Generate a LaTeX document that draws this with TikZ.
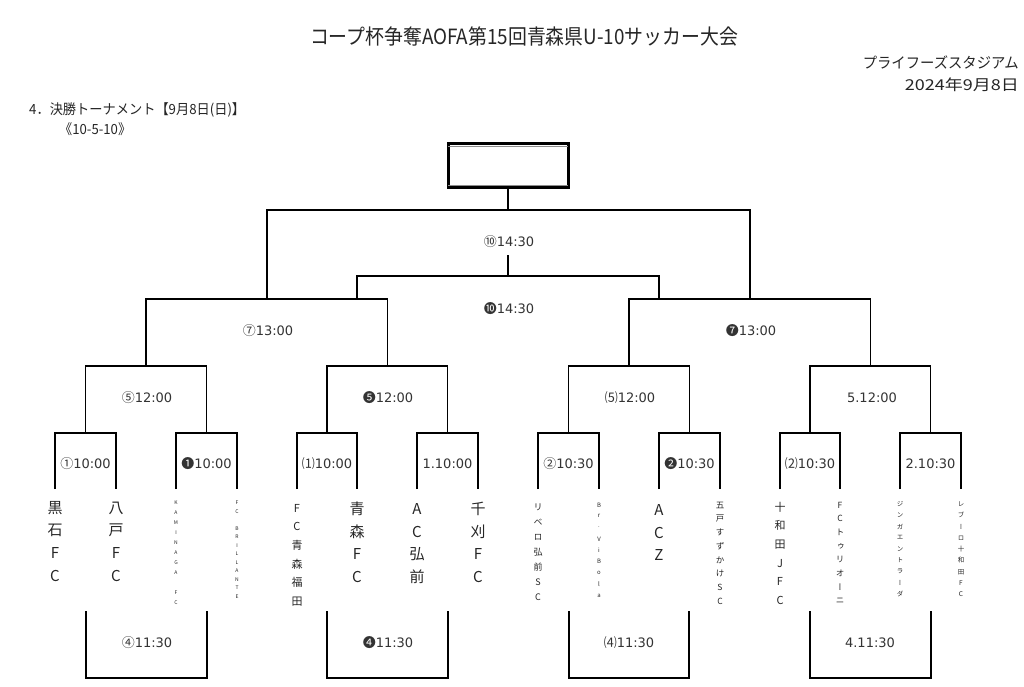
\documentclass[tikz,border=0pt]{standalone}
\usepackage{fontspec}
\usetikzlibrary{calc}
\setmainfont{DejaVu Sans}
\newfontfamily\cjk{Noto Sans CJK JP}
\newfontfamily\cjkv[RawFeature=+vert]{Noto Sans CJK JP}
\tikzset{
  br/.style={line width=1.8pt, line join=miter},
  brb/.style={line width=2.6pt},
  tm/.style={font=\fontsize{13}{15}\selectfont, text=black!80, inner sep=0pt},
  hd/.style={font=\cjk, inner sep=0pt, text=black!85},
  ch/.style={inner sep=0pt, text=black!85},
}
\newcommand\tmlab[4]{\node[tm] (#1) at (#2) {{\cjk #3}#4};}
\newcommand\vname[6]{%
  \foreach \c [count=\i from 0] in {#6} {%
    \node[ch, font=\cjkv\fontsize{#5}{#5}\selectfont, name=#1-\i] at (#2, {#3+\i*#4}) {\c};}}
\begin{document}
\begin{tikzpicture}[x=1pt,y=-1pt]
\useasboundingbox[fill=white] (0,0) rectangle (1024,687);

% headings
\node[hd] (title) at (524,37) {\resizebox{428pt}{\height}{\fontsize{21}{21}\selectfont コープ杯争奪AOFA第15回青森県U-10サッカー大会}};
\node[hd, anchor=east] (venue) at (1019,62) {\resizebox{156pt}{\height}{\fontsize{15}{15}\selectfont プライフーズスタジアム}};
\node[hd, anchor=east] (date) at (1019,85) {\resizebox{114pt}{\height}{\fontsize{15}{15}\selectfont 2024年9月8日}};
\node[hd, anchor=west] (sec) at (29,110) {\resizebox{216pt}{\height}{\fontsize{14}{14}\selectfont 4．決勝トーナメント【9月8日(日)】}};
\node[hd, anchor=west] (fmt) at (59,129) {\resizebox{72pt}{\height}{\fontsize{14}{14}\selectfont 《10-5-10》}};

% top box
\node[draw, line width=3pt, minimum width=120pt, minimum height=44pt, inner sep=0pt] (box) at (508.3,165.5) {};
\draw[black!45, line width=0.9pt] ($(box.north west)+(1.5,4)$) -- ($(box.north east)+(-1.5,4)$);
\draw[black!45, line width=0.9pt] ($(box.south west)+(1.5,-4)$) -- ($(box.south east)+(-1.5,-4)$);

% leaves
\foreach \n/\x in {1/55,2/116,3/176,4/237,5/297,6/357,7/417,8/478,9/538,10/599,11/659,12/720,13/780,14/840,15/900,16/961}
  {\coordinate (L\n) at (\x,489);}
% round 1 junctions
\foreach \n/\x in {1/85.5,2/206.5,3/327,4/447.5,5/568.5,6/689.5,7/810,8/930.5}
  {\coordinate (m\n) at (\x,433);}
\foreach \n/\x in {1/146,2/387.5,3/629,4/870.5}
  {\coordinate (q\n) at (\x,366);}
\coordinate (s1) at (266.75,299);
\coordinate (s2) at (749.75,299);
\coordinate (f) at (508.3,210);
\coordinate (a1) at (357,299);
\coordinate (a2) at (659,299);
\coordinate (t) at (508.3,276);
\coordinate (t2) at (508.3,255);

\draw[br] (L1) |- (m1) -| (L2);
\draw[br] (L3) |- (m2) -| (L4);
\draw[br] (L5) |- (m3) -| (L6);
\draw[br] (L7) |- (m4) -| (L8);
\draw[br] (L9) |- (m5) -| (L10);
\draw[br] (L11) |- (m6) -| (L12);
\draw[br] (L13) |- (m7) -| (L14);
\draw[br] (L15) |- (m8) -| (L16);
\draw[br] (m1) |- (q1) -| (m2);
\draw[br] (m3) |- (q2) -| (m4);
\draw[br] (m5) |- (q3) -| (m6);
\draw[br] (m7) |- (q4) -| (m8);
\draw[br] (q1) |- (s1) -| (q2);
\draw[br] (q3) |- (s2) -| (q4);
\draw[br] (s1) |- (f) -| (s2);
\draw[br] (f) -- (box.south);
\draw[br] (a1) |- (t) -| (a2);
\draw[br] (t) -- (t2);

% bottom brackets
\foreach \n/\xa/\xb in {1/86/207,2/327/448,3/569/689,4/810/931}{
  \coordinate (bl\n) at (\xa,611);
  \coordinate (br\n) at (\xb,611);
  \coordinate (bbl\n) at (\xa,678);
  \coordinate (bbr\n) at (\xb,678);
  \draw[br] (bl\n) -- (bbl\n);
  \draw[br] (br\n) -- (bbr\n);
  \draw[brb] ([xshift=-0.9pt]bbl\n) -- ([xshift=0.9pt]bbr\n);
}

% time labels
\tmlab{r1}{85.5,464}{①}{10:00}
\tmlab{r2}{206.5,464}{❶}{10:00}
\tmlab{r3}{327,464}{⑴}{10:00}
\tmlab{r4}{447.5,464}{}{1.10:00}
\tmlab{r5}{568.5,464}{②}{10:30}
\tmlab{r6}{689.5,464}{❷}{10:30}
\tmlab{r7}{810,464}{⑵}{10:30}
\tmlab{r8}{930.5,464}{}{2.10:30}
\tmlab{qa}{147,398}{⑤}{12:00}
\tmlab{qb}{388,398}{❺}{12:00}
\tmlab{qc}{630,398}{⑸}{12:00}
\tmlab{qd}{872,398}{}{5.12:00}
\tmlab{sa}{268,331}{⑦}{13:00}
\tmlab{sb}{751,331}{❼}{13:00}
\tmlab{fa}{509,242}{⑩}{14:30}
\tmlab{fb}{509,309}{❿}{14:30}
\tmlab{ba}{147,643}{④}{11:30}
\tmlab{bb}{388,643}{❹}{11:30}
\tmlab{bc}{629,643}{⑷}{11:30}
\tmlab{bd}{870,643}{}{4.11:30}

% team names
\vname{n1}{55}{508}{22.7}{15}{黒,石,F,C}
\vname{n2}{116}{508}{22.7}{15}{八,戸,F,C}
\vname{n3}{176}{503}{10}{5}{K,A,M,I,N,A,G,A,{},F,C}
\vname{n4}{237}{503}{8.5}{5}{F,C,{},B,R,I,L,L,A,N,T,E}
\vname{n5}{297}{508}{18.7}{11}{F,C,青,森,福,田}
\vname{n6}{357}{509}{22.7}{15}{青,森,F,C}
\vname{n7}{417}{509}{22.7}{15}{A,C,弘,前}
\vname{n8}{478}{509}{22.7}{15}{千,刈,F,C}
\vname{n9}{538}{507}{15}{9}{リ,ベ,ロ,弘,前,S,C}
\vname{n10}{599}{505}{11.3}{6}{B,r,.,V,i,B,o,l,a}
\vname{n11}{659}{510}{22.7}{15}{A,C,Z}
\vname{n12}{720}{505}{13.7}{8.5}{五,戸,す,ず,か,け,S,C}
\vname{n13}{780}{507}{18.7}{11}{十,和,田,J,F,C}
\vname{n14}{840}{505}{13.7}{8.5}{F,C,ト,ゥ,リ,オ,ー,ニ}
\vname{n15}{900}{504}{11.25}{6.5}{ジ,ン,ガ,エ,ン,ト,ラ,ー,ダ}
\vname{n16}{961}{504}{11.3}{6.5}{レ,ブ,ー,ロ,十,和,田,F,C}
\end{tikzpicture}
\end{document}
